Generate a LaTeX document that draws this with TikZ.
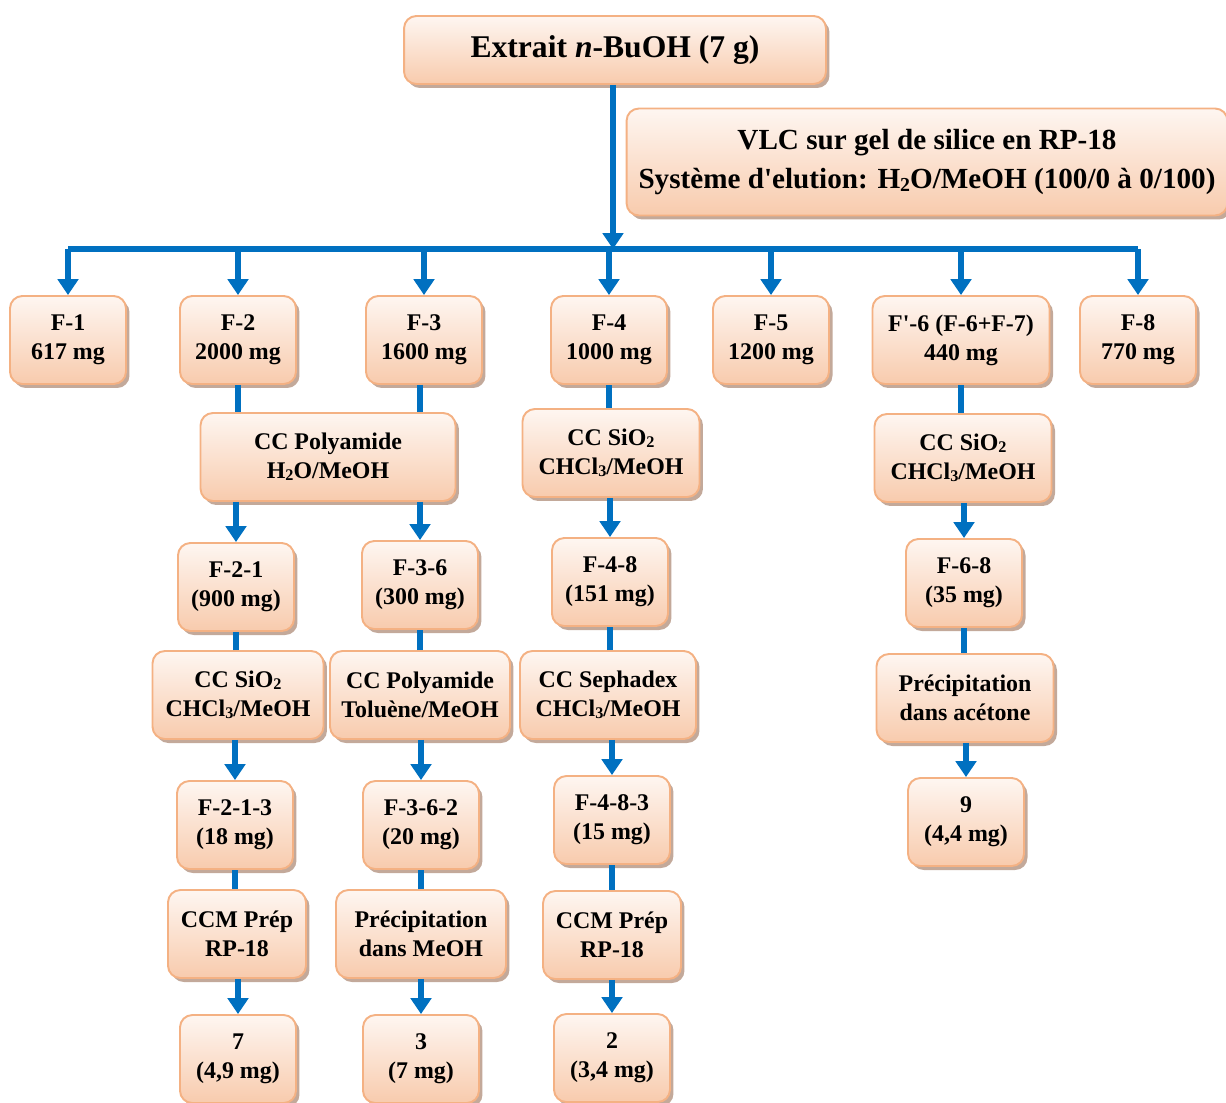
\documentclass[tikz,border=0pt]{standalone}
\usepackage{fontspec}
\setmainfont{Liberation Serif}
\usepackage{graphicx}
\usepackage{tikz}
\usetikzlibrary{positioning,arrows.meta,shadows}

\definecolor{flowblue}{HTML}{0070C0}
\definecolor{boxline}{HTML}{F4B183}
\definecolor{boxtop}{HTML}{FEF6F1}
\definecolor{boxbot}{HTML}{F8CBAD}
\definecolor{boxshade}{HTML}{B89A88}
\newcommand{\chemsub}[1]{\raisebox{-0.2ex}{\scalebox{0.68}{#1}}}

\tikzset{
  box/.style={draw=boxline,line width=1.1pt,rounded corners=7pt,
    top color=boxtop,bottom color=boxbot,
    drop shadow={shadow xshift=0.07cm,shadow yshift=-0.08cm,fill=boxshade,opacity=0.85},
    align=center,inner sep=0pt,minimum width=2.32cm,minimum height=1.76cm,
    font=\bfseries\fontsize{13.6}{16.4}\selectfont},
  link/.style={draw=flowblue,line width=3.4pt},
  flow/.style={link,-{Triangle[width=11.5pt,length=9pt]}}
}

\begin{document}
\begin{tikzpicture}[x=0.02cm,y=-0.02cm]
  \useasboundingbox (0,0) rectangle (1226,1102);
  % extract and VLC conditions
  \node[box,minimum width=8.44cm,minimum height=1.36cm,font=\bfseries\fontsize{18}{21}\selectfont]
    (top) at (615,50) {Extrait \textit{n}-BuOH (7 g)};
  \node[box,minimum width=12.02cm,minimum height=2.14cm,font=\bfseries\fontsize{16.6}{22.7}\selectfont]
    (vlc) at (927,162) {VLC sur gel de silice en RP-18\\
      Syst\`eme d\textquotesingle elution: H\chemsub{2}O/MeOH (100/0 \`a 0/100)};
  \coordinate (bar) at (613,249);

  % VLC fractions
  \node[box] (f1) at (68,340) {F-1\\617 mg};
  \node[box] (f2) at (238,340) {F-2\\2000 mg};
  \node[box] (f3) at (424,340) {F-3\\1600 mg};
  \node[box] (f4) at (609,340) {F-4\\1000 mg};
  \node[box] (f5) at (771,340) {F-5\\1200 mg};
  \node[box,minimum width=3.54cm] (f6) at (961,340) {F\textquotesingle-6 (F-6+F-7)\\440 mg};
  \node[box] (f8) at (1138,340) {F-8\\770 mg};

  % first columns
  \node[box,minimum width=5.10cm] (poly1) at (328,457) {CC Polyamide\\H\chemsub{2}O/MeOH};
  \node[box,minimum width=3.54cm] (sio4) at (611,453) {CC SiO\chemsub{2}\\CHCl\chemsub{3}/MeOH};
  \node[box,minimum width=3.54cm] (sio6) at (963,458) {CC SiO\chemsub{2}\\CHCl\chemsub{3}/MeOH};

  \node[box] (f21) at (236,587) {F-2-1\\(900 mg)};
  \node[box] (f36) at (420,585) {F-3-6\\(300 mg)};
  \node[box] (f48) at (610,582) {F-4-8\\(151 mg)};
  \node[box] (f68) at (964,583) {F-6-8\\(35 mg)};

  \node[box,minimum width=3.42cm] (sio21) at (238,695) {CC SiO\chemsub{2}\\CHCl\chemsub{3}/MeOH};
  \node[box,minimum width=3.60cm] (poly36) at (420,695) {CC Polyamide\\Tolu\`ene/MeOH};
  \node[box,minimum width=3.52cm] (seph) at (608,695) {CC Sephadex\\CHCl\chemsub{3}/MeOH};
  \node[box,minimum width=3.54cm] (pracet) at (965,698) {Pr\'ecipitation\\dans ac\'etone};

  \node[box] (f213) at (235,825) {F-2-1-3\\(18 mg)};
  \node[box] (f362) at (421,825) {F-3-6-2\\(20 mg)};
  \node[box] (f483) at (612,820) {F-4-8-3\\(15 mg)};
  \node[box] (c9) at (966,822) {9\\(4,4 mg)};

  \node[box,minimum width=2.76cm] (ccm2) at (237,934) {CCM Pr\'ep\\RP-18};
  \node[box,minimum width=3.40cm] (prmeoh) at (421,934) {Pr\'ecipitation\\dans MeOH};
  \node[box,minimum width=2.76cm] (ccm4) at (612,935) {CCM Pr\'ep\\RP-18};

  \node[box] (c7) at (238,1059) {7\\(4,9 mg)};
  \node[box] (c3) at (421,1059) {3\\(7 mg)};
  \node[box] (c2) at (612,1058) {2\\(3,4 mg)};

  % connectors
  \draw[flow] (top.south -| bar) -- (bar);
  \draw[link] (f1.north |- bar) -- (f8.north |- bar);
  \foreach \n in {f1,f2,f3,f4,f5,f6,f8}
    \draw[flow] (\n.north |- bar) -- (\n.north);
  \draw[link] (f2.south) -- (f2.south |- poly1.north);
  \draw[link] (f36.north |- f3.south) -- (f36.north |- poly1.north);
  \foreach \a/\b in {f21/sio21,f213/ccm2,f36/poly36,f362/prmeoh,
                     f4/sio4,f48/seph,f483/ccm4,f6/sio6,f68/pracet}
    \draw[link] (\b.north -| \a.south) -- (\a.south);
  \foreach \a/\b in {poly1/f21,poly1/f36,sio21/f213,ccm2/c7,poly36/f362,prmeoh/c3,
                     sio4/f48,seph/f483,ccm4/c2,sio6/f68,pracet/c9}
    \draw[flow] (\b.north |- \a.south) -- (\b.north);
\end{tikzpicture}
\end{document}
